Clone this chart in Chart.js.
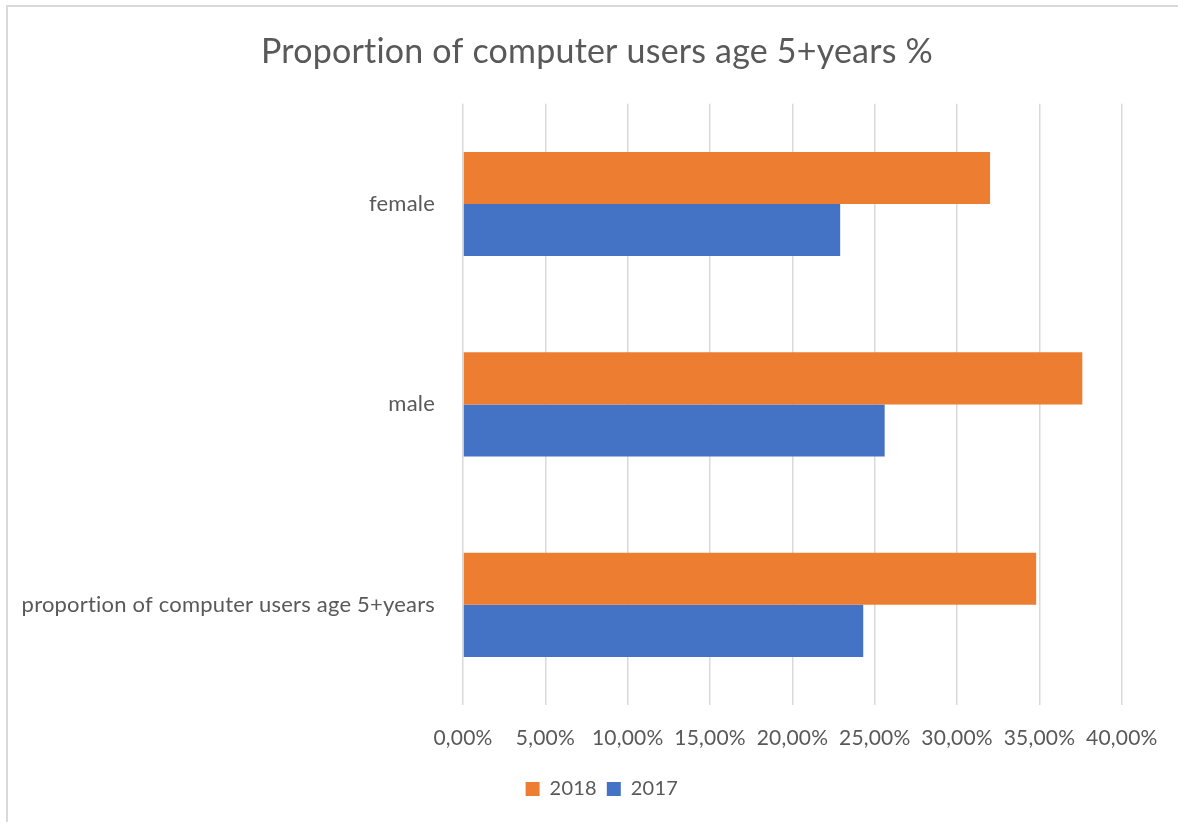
<!DOCTYPE html>
<html>
<head>
<meta charset="utf-8">
<script src="https://cdn.jsdelivr.net/npm/chart.js@4/dist/chart.umd.min.js"></script>
<style>
  html, body { margin: 0; padding: 0; background: #fff; overflow: hidden; }
  #wrap { position: absolute; left: 0; top: 0; width: 1178px; height: 822px; }
  #frame { position: absolute; left: 6px; top: 5px; width: 1300px; height: 900px; border-left: 2px solid #d9d9d9; border-top: 2px solid #d9d9d9; box-sizing: border-box; pointer-events: none; }
  canvas { position: absolute; left: 0; top: 0; }
</style>
</head>
<body>
<div id="wrap">
  <canvas id="c" width="1178" height="822"></canvas>
  <div id="frame"></div>
</div>
<script>
const categories = ['female', 'male', 'proportion of computer users age 5+years'];
const seriesNames = ['2018', '2017'];
const values2018 = [32.0, 37.6, 34.8];
const values2017 = [22.9, 25.6, 24.3];
const tickMin = 0, tickMax = 40, tickStep = 5;
const chartTitle = 'Proportion of computer users age 5+years %';

const FONT = 'Lato, Carlito, Calibri, sans-serif';
const TXT = '#595959';

const tweaks = {
  id: 'tweaks',
  beforeDraw(chart) {
    try { chart.ctx.letterSpacing = '0.2px'; } catch (e) {}
  },
  afterUpdate(chart) {
    const lg = chart.legend;
    if (lg) {
      lg.left += 30; lg.right += 30;
      if (lg.adjustHitBoxes) lg.adjustHitBoxes();
    }
    const tb = chart.titleBlock;
    if (tb) { tb.left += 26; tb.right += 26; }
  }
};

new Chart(document.getElementById('c'), {
  type: 'bar',
  data: {
    labels: categories,
    datasets: [
      { label: seriesNames[0], data: values2018, backgroundColor: '#ED7D31', categoryPercentage: 0.52, barPercentage: 1.0 },
      { label: seriesNames[1], data: values2017, backgroundColor: '#4472C4', categoryPercentage: 0.52, barPercentage: 1.0 }
    ]
  },
  plugins: [tweaks],
  options: {
    indexAxis: 'y',
    responsive: false,
    animation: false,
    layout: { padding: { left: 20, right: 56, top: 0, bottom: 13 } },
    plugins: {
      title: {
        display: true,
        text: chartTitle,
        color: TXT,
        font: { family: FONT, size: 34, weight: 'normal' },
        padding: { top: 32, bottom: 31 }
      },
      legend: {
        position: 'bottom',
        labels: {
          color: TXT,
          font: { family: FONT, size: 20 },
          boxWidth: 14, boxHeight: 14,
          padding: 10
        }
      },
      tooltip: { enabled: false }
    },
    scales: {
      x: {
        min: tickMin, max: tickMax,
        ticks: {
          stepSize: tickStep,
          color: TXT,
          font: { family: FONT, size: 21 },
          padding: 21,
          maxRotation: 0,
          autoSkip: false,
          callback: v => v.toFixed(2).replace('.', ',') + '%'
        },
        grid: { color: '#d9d9d9', lineWidth: 1.5, drawTicks: false },
        border: { display: false },
        afterFit: s => { s.height = 64; }
      },
      y: {
        ticks: {
          color: TXT,
          font: { family: FONT, size: 22 },
          padding: 28
        },
        grid: { display: false, drawTicks: false },
        border: { display: false },
        afterFit: s => { s.width = 443; }
      }
    }
  }
});
</script>
</body>
</html>
